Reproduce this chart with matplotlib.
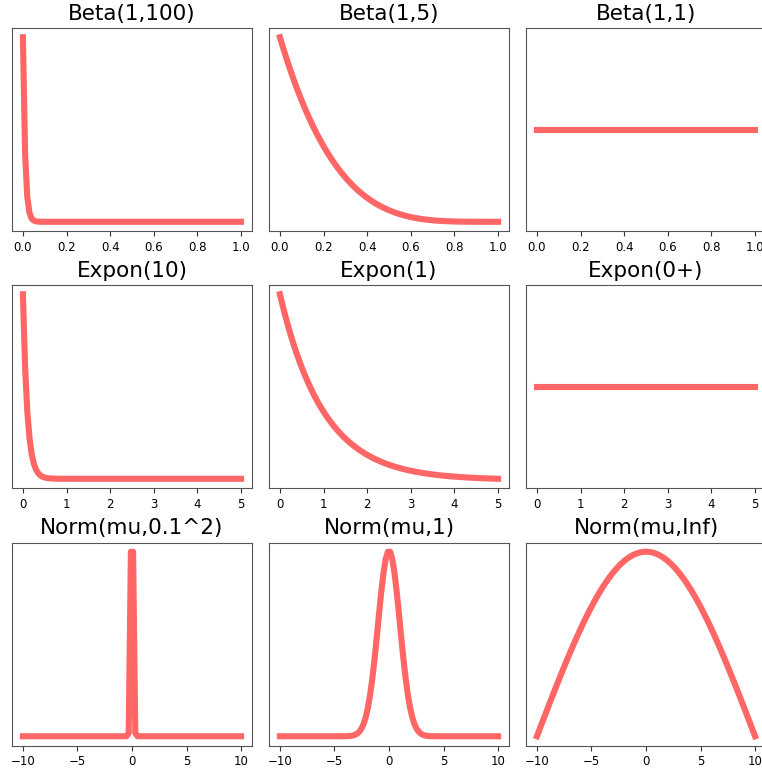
import numpy as np
import matplotlib
matplotlib.use("Agg")
import matplotlib.pyplot as plt
from math import gamma

# Distribution titles and parameters
titles = ["Beta(1,100)", "Beta(1,5)", "Beta(1,1)",
          "Expon(10)", "Expon(1)", "Expon(0+)",
          "Norm(mu,0.1^2)", "Norm(mu,1)", "Norm(mu,Inf)"]
beta_b = [100, 5, 1]          # Beta(1, b)
expon_rate = [10, 1, 0.0]     # exponential rate (0+ -> flat)
norm_sigma = [0.1, 1, 10]     # normal std dev
n_points = 100

def beta_pdf(x, a, b):
    return gamma(a + b) / (gamma(a) * gamma(b)) * x ** (a - 1) * (1 - x) ** (b - 1)

def expon_pdf(x, lam):
    if lam == 0:
        return np.ones_like(x)
    return lam * np.exp(-lam * x)

def norm_pdf(x, s):
    return np.exp(-0.5 * (x / s) ** 2) / (s * np.sqrt(2 * np.pi))

W, H = 762, 769
fig = plt.figure(figsize=(W / 100, H / 100), dpi=100)

col_left = [12, 269, 526]
row_top = [28, 285, 542.5]
aw, ah = 240, 203

for r in range(3):
    for c in range(3):
        ax = fig.add_axes([col_left[c] / W, 1 - (row_top[r] + ah) / H, aw / W, ah / H])
        if r == 0:
            x = np.linspace(0, 1, n_points)
            y = beta_pdf(x, 1, beta_b[c])
        elif r == 1:
            x = np.linspace(0, 5, n_points)
            y = expon_pdf(x, expon_rate[c])
        else:
            x = np.linspace(-10, 10, n_points)
            y = norm_pdf(x, norm_sigma[c])
        ax.plot(x, y, 'r-', lw=4.4, alpha=0.6)
        ax.set_yticks([])
        ax.set_title(titles[3 * r + c], fontsize=15.5)
        ax.tick_params(axis='x', labelsize=8.5, color='#333333')
        for s in ax.spines.values():
            s.set_color('#555555')

fig.savefig("out.png", dpi=100)
